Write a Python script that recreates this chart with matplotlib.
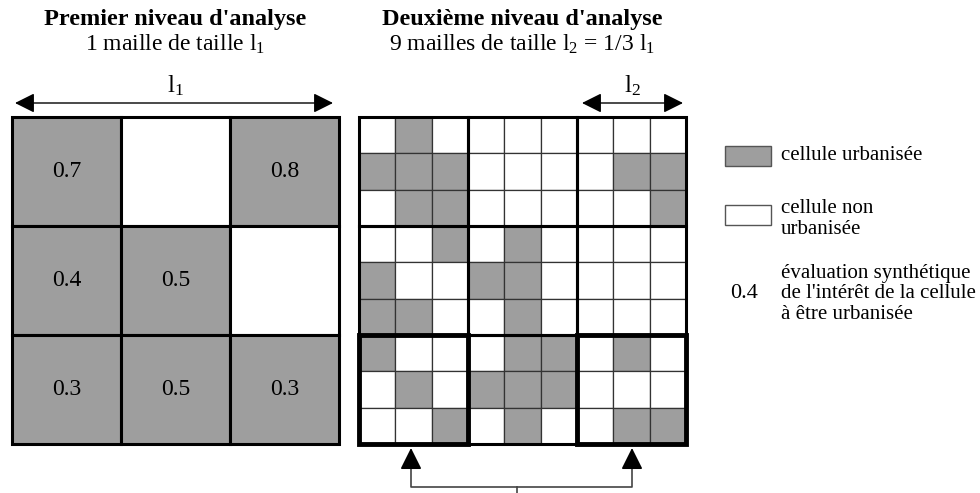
import matplotlib.pyplot as plt
from matplotlib.patches import Rectangle

plt.rcParams['font.family'] = ['Liberation Serif', 'DejaVu Serif']
plt.rcParams['mathtext.fontset'] = 'custom'
plt.rcParams['mathtext.rm'] = 'Liberation Serif'
plt.rcParams['mathtext.it'] = 'Liberation Serif:italic'

# first level: 3x3 cells, 1 = urbanised
coarse_urban = [[1, 0, 1],
                [1, 1, 0],
                [1, 1, 1]]
coarse_score = [["0.7", "", "0.8"],
                ["0.4", "0.5", ""],
                ["0.3", "0.5", "0.3"]]

# second level: 9x9 cells, '#' = urbanised
fine_urban = [".#.......",
              "###....##",
              ".##.....#",
              "..#.#....",
              "#..##....",
              "##..#....",
              "#...##.#.",
              ".#.###...",
              "..#.#..##"]

# blocks (row, col) of the second level drawn with a heavy frame
highlight_blocks = [(2, 0), (2, 2)]

titles = ["Premier niveau d'analyse", "Deuxième niveau d'analyse"]
subtitles = [r"1 maille de taille l$_\mathrm{1}$",
             r"9 mailles de taille l$_\mathrm{2}$ = 1/3 l$_\mathrm{1}$"]
legend_labels = ["cellule urbanisée", "cellule non\nurbanisée",
                 "évaluation synthétique\nde l'intérêt de la cellule\nà être urbanisée"]

GRAY = '#9e9e9e'

fig = plt.figure(figsize=(9.8, 4.93), dpi=100)
ax = fig.add_axes([0, 0, 1, 1])
ax.set_xlim(0, 980)
ax.set_ylim(493, 0)
ax.axis('off')

# left grid
x0, y0, size = 12, 117, 327
c = size / 3
for i in range(3):
    for j in range(3):
        fc = GRAY if coarse_urban[i][j] else 'white'
        ax.add_patch(Rectangle((x0 + j * c, y0 + i * c), c, c, fc=fc, ec='black', lw=2.2))
        if coarse_score[i][j]:
            ax.text(x0 + (j + 0.5) * c, y0 + (i + 0.5) * c, coarse_score[i][j],
                    ha='center', va='center', fontsize=17)

# right grid
x1 = 359
f = size / 9
for i in range(9):
    for j in range(9):
        fc = GRAY if fine_urban[i][j] == '#' else 'white'
        ax.add_patch(Rectangle((x1 + j * f, y0 + i * f), f, f, fc=fc, ec='#333333', lw=0.9))
for i in range(3):
    for j in range(3):
        ax.add_patch(Rectangle((x1 + j * c, y0 + i * c), c, c, fc='none', ec='black', lw=2.2))
for (i, j) in highlight_blocks:
    ax.add_patch(Rectangle((x1 + j * c, y0 + i * c), c, c, fc='none', ec='black', lw=3.5, zorder=5))

# titles
for cx, t, s in zip([x0 + size / 2, x1 + size / 2], titles, subtitles):
    ax.text(cx, 20, t, ha='center', va='center', fontsize=17.5, fontweight='bold')
    ax.text(cx, 44, s, ha='center', va='center', fontsize=17)

# size arrows
arrow = dict(arrowstyle='<|-|>,head_length=0.6,head_width=0.3', color='black', lw=1,
             mutation_scale=20, shrinkA=0, shrinkB=0)
ax.annotate('', xy=(x0 + 3, 103), xytext=(x0 + size - 6, 103), arrowprops=arrow)
ax.text(x0 + size / 2, 86, r"l$_\mathrm{1}$", ha='center', va='center', fontsize=18)
ax.annotate('', xy=(582, 103), xytext=(683, 103), arrowprops=arrow)
ax.text(632, 86, r"l$_\mathrm{2}$", ha='center', va='center', fontsize=18)

# bottom bracket with arrows
bx1, bx2 = x1 + 52, x1 + 273
ax.plot([bx1, bx1, bx2, bx2], [458, 487, 487, 458], color='#444444', lw=1.2)
ax.plot([517, 517], [487, 493], color='#444444', lw=1.2)
up = dict(arrowstyle='-|>,head_length=0.6,head_width=0.3', color='black', lw=1.2,
          mutation_scale=22, shrinkA=0, shrinkB=0)
for bx in (bx1, bx2):
    ax.annotate('', xy=(bx, 448), xytext=(bx, 465), arrowprops=up)

# legend
ax.add_patch(Rectangle((725, 146), 46, 20, fc=GRAY, ec='#555555', lw=1))
ax.text(781, 156, legend_labels[0], ha='left', va='center', fontsize=15)
ax.add_patch(Rectangle((725, 205), 46, 20, fc='white', ec='#555555', lw=1))
ax.text(781, 219, legend_labels[1], ha='left', va='center', fontsize=15, linespacing=1.12)
ax.text(744, 294, "0.4", ha='center', va='center', fontsize=16)
ax.text(781, 294, legend_labels[2], ha='left', va='center', fontsize=15, linespacing=1.12)

fig.savefig('out.png', dpi=100)
